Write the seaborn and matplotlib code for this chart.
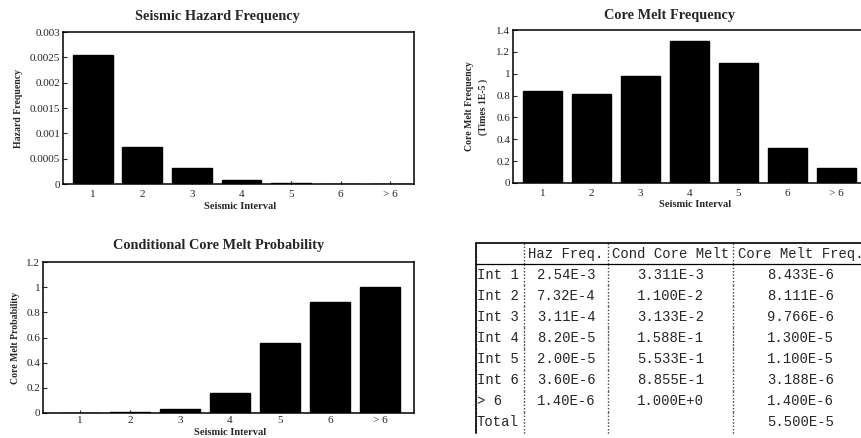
import numpy as np
import pandas as pd
import seaborn as sns
import matplotlib
matplotlib.use('Agg')
import matplotlib.pyplot as plt
from matplotlib.ticker import MultipleLocator, FormatStrFormatter

intervalos = ['1', '2', '3', '4', '5', '6', '> 6']
filas = ['Int 1', 'Int 2', 'Int 3', 'Int 4', 'Int 5', 'Int 6', '> 6', 'Total']
columnas = ['', 'Haz Freq.', 'Cond Core Melt', 'Core Melt Freq.']
haz_freq = ['2.54E-3', '7.32E-4', '3.11E-4', '8.20E-5', '2.00E-5', '3.60E-6', '1.40E-6', '']
cond_melt = ['3.311E-3', '1.100E-2', '3.133E-2', '1.588E-1', '5.533E-1', '8.855E-1', '1.000E+0', '']
core_melt = ['8.433E-6', '8.111E-6', '9.766E-6', '1.300E-5', '1.100E-5', '3.188E-6', '1.400E-6', '5.500E-5']

sns.set_style('ticks')
plt.rcParams['font.family'] = ['Liberation Serif', 'DejaVu Serif']
plt.rcParams['axes.linewidth'] = 1.1

W, H = 862, 438


def caja(l, t, r, b):
    '''Convierte pixeles (izq, arriba, der, abajo) a coordenadas de figura'''
    return [l / W, 1 - b / H, (r - l) / W, (b - t) / H]


def grafico_barras(ax, data, col, titulo, ylabel, ymax, paso, xlim, tpos, ypos, xpos, xpad=4):
    sns.barplot(data=data, x='intervalo', y=col, color='black', saturation=1,
                width=0.8, edgecolor='black', ax=ax)
    ax.set_xlim(*xlim)
    ax.set_ylim(0, ymax)
    ax.yaxis.set_major_locator(MultipleLocator(paso))
    ax.yaxis.set_major_formatter(FormatStrFormatter('%g'))
    ax.tick_params(axis='y', direction='in', length=3, width=0.8, labelsize=8, pad=2)
    ax.tick_params(axis='x', direction='in', length=2, width=0.8, labelsize=8, pad=xpad)
    ax.set_title(titulo, x=tpos[0], y=tpos[1], va='center', pad=0,
                 fontsize=10.3, fontweight='bold')
    ax.set_ylabel(ylabel, fontsize=7, fontweight='bold', linespacing=1.6)
    ax.set_xlabel('Seismic Interval', fontsize=7.5, fontweight='bold')
    ax.yaxis.set_label_coords(*ypos)
    ax.xaxis.set_label_coords(*xpos)
    for s in ax.spines.values():
        s.set_color('black')


df = pd.DataFrame({
    'intervalo': intervalos,
    'haz': [float(v) for v in haz_freq[:7]],
    'cond': [float(v) for v in cond_melt[:7]],
    'core': [float(v) / 1e-5 for v in core_melt[:7]],
})

fig = plt.figure(figsize=(W / 100, H / 100), dpi=100)

ax1 = fig.add_axes(caja(63, 32, 414, 184))
grafico_barras(ax1, df, 'haz', 'Seismic Hazard Frequency', 'Hazard Frequency',
               0.003, 0.0005, (-0.6, 6.48), (0.44, 1.105), (-0.115, 0.5), (0.504, -0.12))

ax2 = fig.add_axes(caja(513, 30, 868, 183))
grafico_barras(ax2, df, 'core', 'Core Melt Frequency', 'Core Melt Frequency\n(Times 1E-5 )',
               1.4, 0.2, (-0.6, 6.645), (0.442, 1.098), (-0.07, 0.5), (0.513, -0.11))

ax3 = fig.add_axes(caja(43, 262, 414, 413))
grafico_barras(ax3, df, 'cond', 'Conditional Core Melt Probability', 'Core Melt Probability',
               1.2, 0.2, (-0.74, 6.68), (0.474, 1.106), (-0.062, 0.5), (0.504, -0.1), xpad=2.5)

# tabla
axt = fig.add_axes(caja(476, 243, 868, 433))
axt.set_axis_off()
celdas = [columnas] + [[f, a, b, c] for f, a, b, c in zip(filas, haz_freq, cond_melt, core_melt)]
anchos = np.array([48, 84, 125, 135]) / 392
tabla = axt.table(cellText=celdas, colWidths=anchos, cellLoc='center',
                  bbox=[0, 0, 1, 1], edges='vertical')
tabla.auto_set_font_size(False)
for (r, c), cell in tabla.get_celld().items():
    cell.set_linestyle(':')
    cell.set_edgecolor('#555555')
    cell.set_linewidth(0.9)
    cell.get_text().set_fontfamily('Liberation Mono')
    cell.get_text().set_fontsize(10)
    if c == 0:
        cell._loc = 'left'
        cell.PAD = 0.02
        cell.get_text().set_ha('left')
axt.plot([0, 1], [1, 1], color='black', lw=1.2, transform=axt.transAxes, clip_on=False)
axt.plot([0, 1], [8 / 9, 8 / 9], color='black', lw=0.9, transform=axt.transAxes, clip_on=False)
axt.plot([0, 0], [0, 1], color='black', lw=1.2, transform=axt.transAxes, clip_on=False)

plt.savefig('out.png', dpi=100)
